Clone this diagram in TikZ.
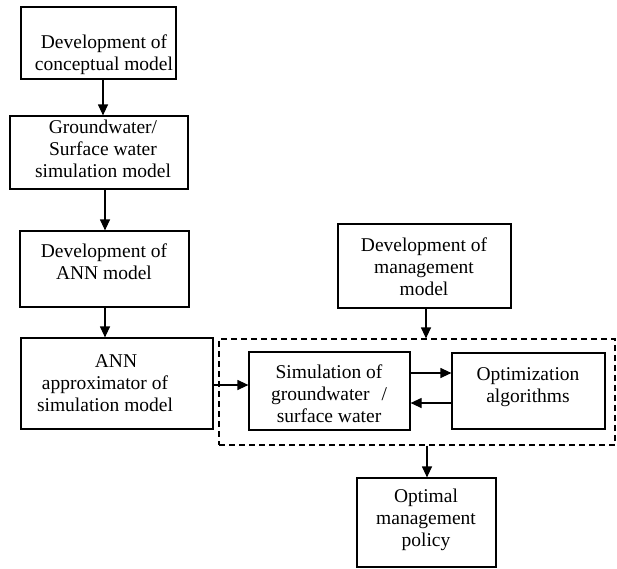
\documentclass[tikz,border=0pt]{standalone}
\usepackage{fontspec}
\setmainfont{Liberation Serif}
\usetikzlibrary{arrows.meta}
\begin{document}
\begin{tikzpicture}[x=1pt,y=-1pt,
  box/.style={draw, line width=1.2pt, inner sep=0pt, rectangle},
  txt/.style={align=center, font=\fontsize{19.5}{22}\selectfont, inner sep=0pt, anchor=base},
  arr/.style={line width=1.2pt, -{Triangle[length=11pt,width=10pt]}},
  dbox/.style={draw, line width=1.2pt, dash pattern=on 6pt off 4pt, inner sep=0pt, rectangle}]
\useasboundingbox (0,0) rectangle (617,568);
% boxes
\node[box, minimum width=155pt, minimum height=72pt] (b1) at (98.5,43) {};
\node[box, minimum width=178pt, minimum height=73pt] (b2) at (99,152.5) {};
\node[box, minimum width=169pt, minimum height=76pt] (b3) at (104.5,269) {};
\node[box, minimum width=192pt, minimum height=91pt] (b4) at (117,383.5) {};
\node[box, minimum width=173pt, minimum height=84pt] (mg) at (424.5,266) {};
\node[dbox, minimum width=396pt, minimum height=106pt] (dash) at (417,392) {};
\node[box, minimum width=161pt, minimum height=78pt] (sim) at (329.5,391) {};
\node[box, minimum width=153pt, minimum height=76pt] (opt) at (528.5,391) {};
\node[box, minimum width=139pt, minimum height=89pt] (pol) at (426.5,522.5) {};
% texts (anchor at baseline of last line)
\node[txt] (t1) at (104,70) {Development of\\conceptual model};
\node[txt] (t2) at (103,177) {Groundwater/\\Surface water\\simulation model};
\node[txt] (t3) at (104,279) {Development of\\ANN model};
\node[txt] (t4) at (105,411) {\hspace*{22pt}ANN\\approximator of\\simulation model};
\node[txt] (tmg) at (424,295) {Development of\\management\\model};
\node[txt] (tsim) at (329,422) {Simulation of\\groundwater\hspace{12pt}/\\surface water};
\node[txt] (topt) at (528,402) {Optimization\\algorithms};
\node[txt] (tpol) at (426,546) {Optimal\\management\\policy};
% connector guides
\coordinate (c1) at (103,0);
\coordinate (c2) at (105,0);
\coordinate (c3) at (105,0);
\coordinate (c4) at (0,385);
\coordinate (c5) at (0,373);
\coordinate (c6) at (0,403);
\coordinate (c7) at (426,0);
\coordinate (c8) at (427,0);
% connectors
\draw[arr] (b1.south -| c1) -- (b2.north -| c1);
\draw[arr] (b2.south -| c2) -- (b3.north -| c2);
\draw[arr] (b3.south -| c3) -- (b4.north -| c3);
\draw[arr] (b4.east |- c4) -- (sim.west |- c4);
\draw[arr] (sim.east |- c5) -- (opt.west |- c5);
\draw[arr] (opt.west |- c6) -- (sim.east |- c6);
\draw[arr] (mg.south -| c7) -- (dash.north -| c7);
\draw[arr] (dash.south -| c8) -- (pol.north -| c8);
\end{tikzpicture}
\end{document}
